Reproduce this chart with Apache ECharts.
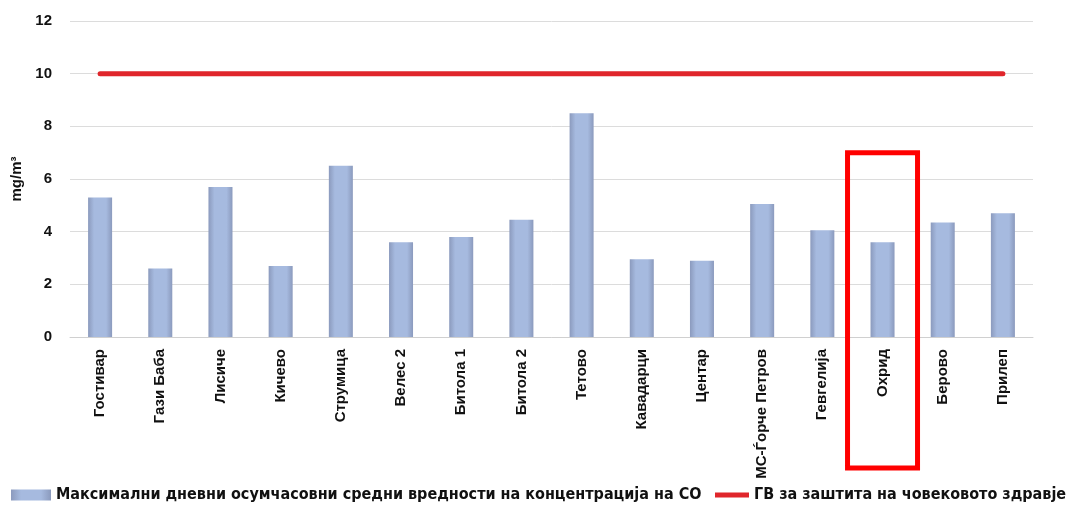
<!DOCTYPE html>
<html>
<head>
<meta charset="utf-8">
<script src="https://cdn.jsdelivr.net/npm/echarts@6/dist/echarts.min.js"></script>
<style>
  html, body { margin: 0; padding: 0; background: #fff; }
  #chart { width: 1073px; height: 510px; }
</style>
</head>
<body>
<div id="chart"></div>
<script>
var stations = ['Гостивар', 'Гази Баба', 'Лисиче', 'Кичево', 'Струмица', 'Велес 2', 'Битола 1', 'Битола 2',
    'Тетово', 'Кавадарци', 'Центар', 'МС-Ѓорче Петров', 'Гевгелија', 'Охрид', 'Берово', 'Прилеп'];
var maxValues = [5.3, 2.6, 5.7, 2.7, 6.5, 3.6, 3.8, 4.45, 8.5, 2.95, 2.9, 5.05, 4.05, 3.6, 4.35, 4.7];
var limitValues = [10, 10, 10, 10, 10, 10, 10, 10, 10, 10, 10, 10, 10, 10, 10, 10];
var yTicks = [0, 2, 4, 6, 8, 10, 12];
var highlighted = 'Охрид';
var highlightTop = 7;

var barName = 'Максимални дневни осумчасовни средни вредности на концентрација на СО';
var lineName = 'ГВ за заштита на човековото здравје';

var chart = echarts.init(document.getElementById('chart'));

// cylinder look of the bars
var barColor = new echarts.graphic.LinearGradient(0, 0, 1, 0, [
    {offset: 0, color: '#8b9abd'},
    {offset: 0.25, color: '#a6badf'},
    {offset: 0.75, color: '#a6badf'},
    {offset: 1, color: '#8b9abd'}
]);

var legendText = {
    fontFamily: '"Liberation Sans Narrow", "DejaVu Sans Condensed", Arial, sans-serif',
    fontSize: 16,
    fontWeight: 'bold',
    color: '#111'
};

var option = {
    animation: false,
    grid: {left: 70, right: 40, top: 21, bottom: 173},
    xAxis: {
        type: 'category',
        data: stations,
        axisLine: {lineStyle: {color: '#d0d0d0'}},
        axisTick: {show: false},
        axisLabel: {
            rotate: 90,
            interval: 0,
            margin: 12,
            color: '#111',
            fontWeight: 'bold',
            fontSize: 15,
            fontFamily: 'Arial, "Liberation Sans", sans-serif'
        }
    },
    yAxis: {
        type: 'value',
        min: yTicks[0],
        max: yTicks[yTicks.length - 1],
        interval: 2,
        name: 'mg/m³',
        nameLocation: 'middle',
        nameGap: 46,
        nameTextStyle: {color: '#111', fontWeight: 'bold', fontSize: 15, fontFamily: 'Arial, sans-serif'},
        axisLine: {show: false},
        axisTick: {show: false},
        splitLine: {lineStyle: {color: '#dcdcdc'}},
        axisLabel: {
            margin: 18,
            color: '#111',
            fontWeight: 'bold',
            fontSize: 15,
            fontFamily: 'Arial, "Liberation Sans", sans-serif'
        }
    },
    legend: [
        {
            data: [barName],
            left: 6, bottom: 2,
            itemWidth: 40, itemHeight: 11,
            icon: 'rect',
            textStyle: legendText
        },
        {
            data: [{name: lineName, icon: 'rect'}],
            left: 710, bottom: 2,
            itemWidth: 34, itemHeight: 5,
            textStyle: legendText
        }
    ],
    series: [
        {
            name: barName,
            type: 'bar',
            data: maxValues,
            barWidth: 24,
            itemStyle: {color: barColor}
        },
        {
            name: lineName,
            type: 'line',
            data: limitValues,
            symbol: 'none',
            lineStyle: {color: '#e0262b', width: 5, cap: 'round'},
            itemStyle: {color: '#e0262b'}
        }
    ]
};
chart.setOption(option);

// red frame around the highlighted station
var idx = stations.indexOf(highlighted);
var cx = chart.convertToPixel({xAxisIndex: 0}, idx);
var topY = chart.convertToPixel({yAxisIndex: 0}, highlightTop);
chart.setOption({
    graphic: [{
        type: 'rect',
        shape: {x: cx - 35, y: topY, width: 70, height: 468 - topY},
        style: {fill: 'none', stroke: '#ff0000', lineWidth: 5},
        z: 100
    }]
});
</script>
</body>
</html>
